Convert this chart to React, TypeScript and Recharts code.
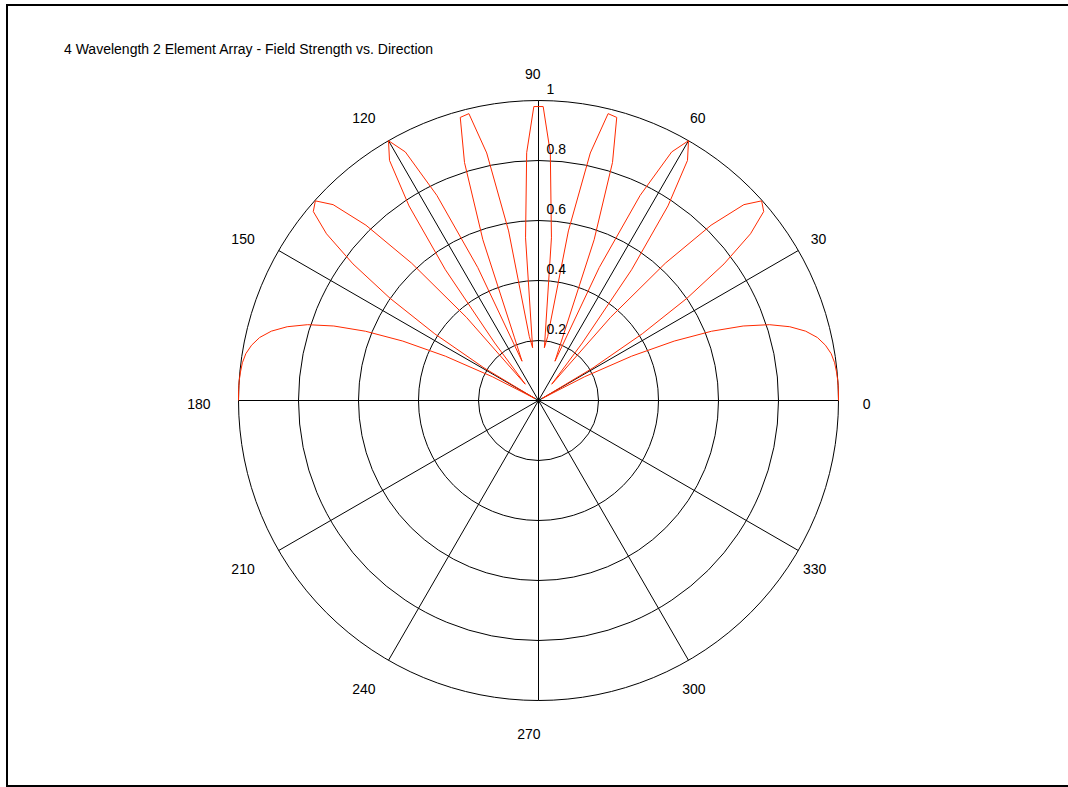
import React from 'react';
import { RadarChart, PolarGrid, PolarAngleAxis, PolarRadiusAxis, Radar } from 'recharts';

const FONT = '"Liberation Sans", Arial, Helvetica, sans-serif';

const title = '4 Wavelength 2 Element Array - Field Strength vs. Direction';

// direction of each sample, degrees (upper half only)
const angles = [
  0, 1.82, 3.64, 5.45, 7.27, 9.09, 10.91, 12.73, 14.55, 16.36,
  18.18, 20, 21.82, 23.64, 25.45, 27.27, 29.09, 30.91, 32.73, 34.55,
  36.36, 38.18, 40, 41.82, 43.64, 45.45, 47.27, 49.09, 50.91, 52.73,
  54.55, 56.36, 58.18, 60, 61.82, 63.64, 65.45, 67.27, 69.09, 70.91,
  72.73, 74.55, 76.36, 78.18, 80, 81.82, 83.64, 85.45, 87.27, 89.09,
  90.91, 92.73, 94.55, 96.36, 98.18, 100, 101.82, 103.64, 105.45, 107.27,
  109.09, 110.91, 112.73, 114.55, 116.36, 118.18, 120, 121.82, 123.64, 125.45,
  127.27, 129.09, 130.91, 132.73, 134.55, 136.36, 138.18, 140, 141.82, 143.64,
  145.45, 147.27, 149.09, 150.91, 152.73, 154.55, 156.36, 158.18, 160, 161.82,
  163.64, 165.45, 167.27, 169.09, 170.91, 172.73, 174.55, 176.36, 178.18, 180,
];

// normalised field strength at each direction
const fieldStrength = [
  1.0, 1.0, 1.0, 0.998, 0.995, 0.988, 0.974, 0.953, 0.92, 0.873,
  0.81, 0.726, 0.621, 0.494, 0.344, 0.173, 0.014, 0.212, 0.411, 0.601,
  0.768, 0.899, 0.98, 0.998, 0.946, 0.82, 0.623, 0.367, 0.07, 0.241,
  0.535, 0.779, 0.942, 1.0, 0.94, 0.763, 0.487, 0.142, 0.226, 0.567,
  0.831, 0.979, 0.984, 0.843, 0.574, 0.216, 0.177, 0.544, 0.827, 0.98,
  0.98, 0.827, 0.544, 0.177, 0.216, 0.574, 0.843, 0.984, 0.979, 0.831,
  0.567, 0.226, 0.142, 0.487, 0.763, 0.94, 1.0, 0.942, 0.779, 0.535,
  0.241, 0.07, 0.367, 0.623, 0.82, 0.946, 0.998, 0.98, 0.899, 0.768,
  0.601, 0.411, 0.212, 0.014, 0.173, 0.344, 0.494, 0.621, 0.726, 0.81,
  0.873, 0.92, 0.953, 0.974, 0.988, 0.995, 0.998, 1.0, 1.0, 1.0,
];

const angleTicks = [0, 30, 60, 90, 120, 150, 180, 210, 240, 270, 300, 330];
const radiusTicks = [0.2, 0.4, 0.6, 0.8, 1];

const data = angles.map((angle, i) => ({ angle, field: fieldStrength[i] }));

const AngleTick = (props: any) => {
  const { x, y, payload } = props;
  return (
    <text x={x + 2} y={y + 3} textAnchor="end" dominantBaseline="central"
      fontSize={14} fontFamily={FONT} fill="#000">
      {payload.value}
    </text>
  );
};

const RadiusTick = (props: any) => {
  const { x, y, payload } = props;
  return (
    <text x={x + 8} y={y - 12} textAnchor="start" dominantBaseline="central"
      fontSize={14} fontFamily={FONT} fill="#000">
      {payload.value}
    </text>
  );
};

// open polyline through the radar points (the default polygon would close 180 -> 0 across the centre)
const OpenOutline = (props: any) => {
  const pts = (props.points || []).filter(
    (p: any) => Number.isFinite(p.x) && Number.isFinite(p.y),
  );
  const d = pts.map((p: any, i: number) => `${i === 0 ? 'M' : 'L'}${p.x},${p.y}`).join('');
  return <path d={d} fill="none" stroke={props.stroke} strokeWidth={props.strokeWidth} />;
};

const App: React.FC = () => {
  return (
    <div style={{ position: 'absolute', left: 0, top: 0, width: 1068, height: 787, background: '#fff' }}>
      <div
        style={{
          position: 'absolute', left: 6, top: 4, width: 1062, height: 783,
          boxSizing: 'border-box', borderTop: '2px solid #000', borderLeft: '2px solid #000',
          borderBottom: '2px solid #000',
        }}
      />
      <div
        style={{
          position: 'absolute', left: 64, top: 41, fontFamily: FONT, fontSize: 14,
          lineHeight: '16px', color: '#000', whiteSpace: 'nowrap',
        }}
      >
        {title}
      </div>
      <div style={{ position: 'absolute', left: 0, top: 0 }}>
        <RadarChart
          width={1068}
          height={787}
          data={data}
          cx={538.5}
          cy={400.5}
          innerRadius={0}
          outerRadius={300}
          startAngle={0}
          endAngle={360}
          margin={{ top: 0, right: 0, bottom: 0, left: 0 }}
        >
          <PolarGrid gridType="circle" stroke="#000" strokeWidth={1} />
          <PolarAngleAxis
            dataKey="angle"
            type="number"
            domain={[0, 360]}
            ticks={angleTicks}
            axisLine={false}
            tickLine={false}
            tickSize={30}
            tick={<AngleTick />}
          />
          <PolarRadiusAxis
            angle={90}
            type="number"
            domain={[0, 1]}
            ticks={radiusTicks}
            axisLine={false}
            tick={<RadiusTick />}
          />
          <Radar
            dataKey="field"
            stroke="#ff2a00"
            strokeWidth={1}
            fill="none"
            fillOpacity={0}
            dot={false}
            shape={OpenOutline}
            isAnimationActive={false}
          />
        </RadarChart>
      </div>
    </div>
  );
};

export default App;
